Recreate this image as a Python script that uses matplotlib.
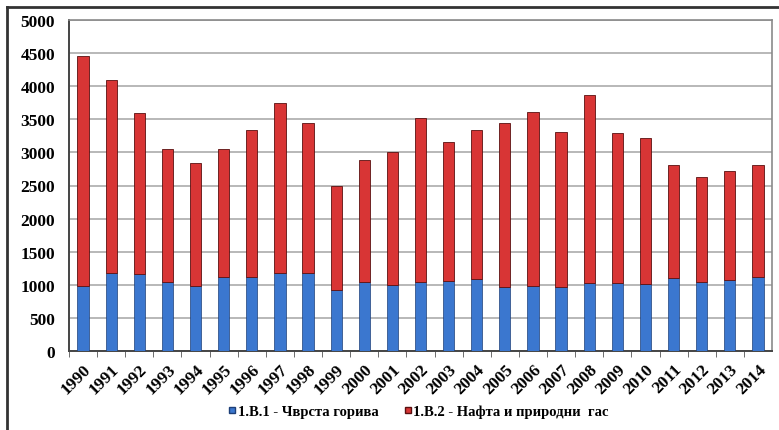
import matplotlib.pyplot as plt
from matplotlib.lines import Line2D
import numpy as np

years = [str(y) for y in range(1990, 2015)]
# 1.B.1 - solid fuels
solid = [985, 1178, 1163, 1037, 977, 1123, 1113, 1178, 1173, 926, 1037, 997,
         1037, 1062, 1088, 962, 986, 962, 1027, 1022, 1007, 1098, 1037, 1072, 1123]
# total height of each stacked bar
totals = [4450, 4100, 3600, 3050, 2840, 3050, 3340, 3740, 3440, 2500, 2890, 3000,
          3525, 3150, 3340, 3440, 3610, 3310, 3870, 3290, 3210, 2815, 2625, 2720, 2805]
oil_gas = [t - s for t, s in zip(totals, solid)]

labels = ["1.B.1 - Чврста горива", "1.B.2 - Нафта и природни  гас"]
blue = "#3b77cf"
red = "#d83535"

plt.rcParams['font.family'] = ['Liberation Serif', 'DejaVu Serif']

fig = plt.figure(figsize=(7.79, 4.31), dpi=100)
ax = fig.add_axes([69 / 779, 1 - 352 / 431, 703 / 779, 331 / 431])

x = np.arange(len(years))
ax.bar(x, solid, width=0.4, color=blue, edgecolor="#1d3f78", linewidth=0.5, zorder=3)
ax.bar(x, oil_gas, bottom=solid, width=0.4, color=red, edgecolor="#5a1010",
       linewidth=0.6, zorder=3)

ax.set_xlim(-0.5, len(years) - 0.5)
ax.set_ylim(0, 5000)
ax.set_yticks(range(0, 5001, 500))
ax.tick_params(axis="y", length=0, pad=10, labelsize=12.5)
ax.set_yticklabels([str(v) for v in range(0, 5001, 500)], fontweight="bold")
ax.grid(axis="y", color="#ababab", linewidth=1.2, zorder=0)

# ticks sit between categories, labels under each bar
ax.set_xticks(x - 0.5, minor=True)
ax.set_xticks(x)
ax.set_xticklabels(years, rotation=45, ha="right", rotation_mode="anchor",
                   fontsize=12.5, fontweight="bold")
ax.tick_params(axis="x", which="major", length=0, pad=7)
ax.tick_params(axis="x", which="minor", length=4, color="#555555")

for side in ["top", "right"]:
    ax.spines[side].set_color("#8a8a8a")
    ax.spines[side].set_linewidth(1.2)
for side in ["left", "bottom"]:
    ax.spines[side].set_color("#444444")
    ax.spines[side].set_linewidth(1.4)

handles = [Line2D([], [], marker="s", linestyle="", markersize=5, color=blue,
                  markeredgecolor="#1d3f78"),
           Line2D([], [], marker="s", linestyle="", markersize=5, color=red,
                  markeredgecolor="#5a1010")]
fig.legend(handles, labels, loc="center", bbox_to_anchor=(416 / 779, 1 - 412 / 431),
           ncol=2, frameon=False, handletextpad=-0.2, columnspacing=1.4,
           handlelength=1.2, prop={"size": 10.5, "weight": "bold"})

# outer frame of the figure panel
fig.add_artist(Line2D([7 / 779, 7 / 779], [0, 1 - 8 / 431], color="#333333",
                      linewidth=2, transform=fig.transFigure))
fig.add_artist(Line2D([7 / 779, 1], [1 - 8 / 431, 1 - 8 / 431], color="#333333",
                      linewidth=2, transform=fig.transFigure))

fig.savefig("out.png", dpi=100)
